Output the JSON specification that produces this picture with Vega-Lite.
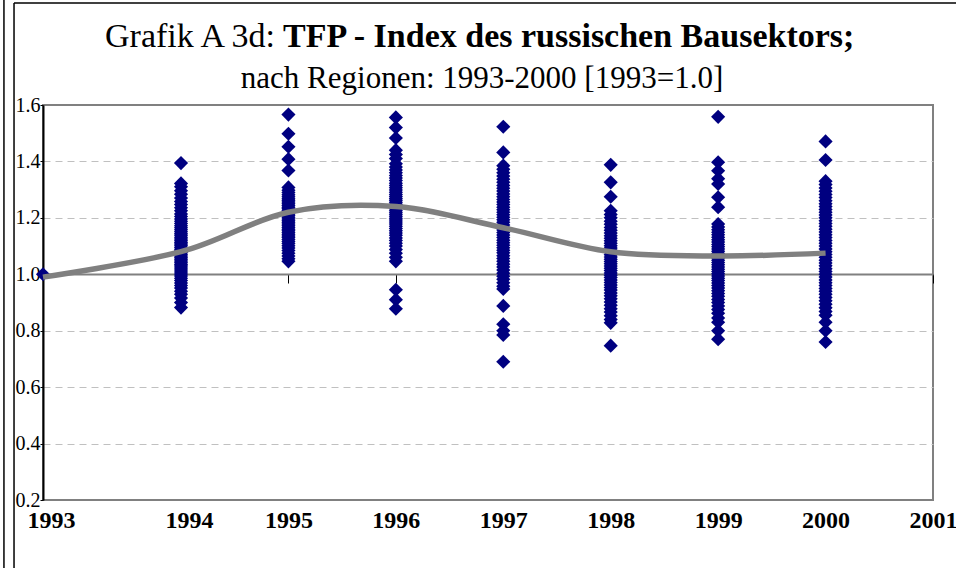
{
  "$schema": "https://vega.github.io/schema/vega-lite/v6.json",
  "width": 890,
  "height": 395,
  "autosize": "none",
  "padding": {"left": 43, "top": 105, "right": 23, "bottom": 68},
  "background": "white",
  "config": {
    "view": {"stroke": "#808080", "strokeWidth": 2},
    "axis": {"labelFont": "Liberation Serif", "labelColor": "black", "zindex": 0},
    "text": {"font": "Liberation Serif", "color": "black"}
  },
  "datasets": {
    "one": [{}],
    "points": [
      {"year":1993,"tfp":1.0},
      {"year":1994,"tfp":1.394},{"year":1994,"tfp":1.322},{"year":1994,"tfp":1.310},{"year":1994,"tfp":1.296},{"year":1994,"tfp":1.284},{"year":1994,"tfp":1.270},{"year":1994,"tfp":1.258},{"year":1994,"tfp":1.247},{"year":1994,"tfp":1.236},{"year":1994,"tfp":1.225},{"year":1994,"tfp":1.214},{"year":1994,"tfp":1.205},{"year":1994,"tfp":1.196},{"year":1994,"tfp":1.188},{"year":1994,"tfp":1.180},{"year":1994,"tfp":1.172},{"year":1994,"tfp":1.165},{"year":1994,"tfp":1.158},{"year":1994,"tfp":1.151},{"year":1994,"tfp":1.144},{"year":1994,"tfp":1.138},{"year":1994,"tfp":1.131},{"year":1994,"tfp":1.125},{"year":1994,"tfp":1.119},{"year":1994,"tfp":1.113},{"year":1994,"tfp":1.107},{"year":1994,"tfp":1.101},{"year":1994,"tfp":1.095},{"year":1994,"tfp":1.089},{"year":1994,"tfp":1.083},{"year":1994,"tfp":1.077},{"year":1994,"tfp":1.071},{"year":1994,"tfp":1.065},{"year":1994,"tfp":1.059},{"year":1994,"tfp":1.053},{"year":1994,"tfp":1.047},{"year":1994,"tfp":1.041},{"year":1994,"tfp":1.035},{"year":1994,"tfp":1.029},{"year":1994,"tfp":1.022},{"year":1994,"tfp":1.015},{"year":1994,"tfp":1.008},{"year":1994,"tfp":1.001},{"year":1994,"tfp":0.994},{"year":1994,"tfp":0.986},{"year":1994,"tfp":0.978},{"year":1994,"tfp":0.969},{"year":1994,"tfp":0.960},{"year":1994,"tfp":0.951},{"year":1994,"tfp":0.940},{"year":1994,"tfp":0.929},{"year":1994,"tfp":0.916},{"year":1994,"tfp":0.900},{"year":1994,"tfp":0.882},
      {"year":1995,"tfp":1.566},{"year":1995,"tfp":1.498},{"year":1995,"tfp":1.452},{"year":1995,"tfp":1.408},{"year":1995,"tfp":1.368},{"year":1995,"tfp":1.308},{"year":1995,"tfp":1.298},{"year":1995,"tfp":1.290},{"year":1995,"tfp":1.282},{"year":1995,"tfp":1.275},{"year":1995,"tfp":1.268},{"year":1995,"tfp":1.262},{"year":1995,"tfp":1.256},{"year":1995,"tfp":1.250},{"year":1995,"tfp":1.244},{"year":1995,"tfp":1.238},{"year":1995,"tfp":1.232},{"year":1995,"tfp":1.226},{"year":1995,"tfp":1.220},{"year":1995,"tfp":1.214},{"year":1995,"tfp":1.208},{"year":1995,"tfp":1.202},{"year":1995,"tfp":1.196},{"year":1995,"tfp":1.190},{"year":1995,"tfp":1.184},{"year":1995,"tfp":1.178},{"year":1995,"tfp":1.172},{"year":1995,"tfp":1.166},{"year":1995,"tfp":1.160},{"year":1995,"tfp":1.154},{"year":1995,"tfp":1.148},{"year":1995,"tfp":1.142},{"year":1995,"tfp":1.136},{"year":1995,"tfp":1.130},{"year":1995,"tfp":1.123},{"year":1995,"tfp":1.116},{"year":1995,"tfp":1.109},{"year":1995,"tfp":1.101},{"year":1995,"tfp":1.093},{"year":1995,"tfp":1.084},{"year":1995,"tfp":1.075},{"year":1995,"tfp":1.065},{"year":1995,"tfp":1.055},{"year":1995,"tfp":1.046},
      {"year":1996,"tfp":1.556},{"year":1996,"tfp":1.520},{"year":1996,"tfp":1.483},{"year":1996,"tfp":1.440},{"year":1996,"tfp":1.425},{"year":1996,"tfp":1.410},{"year":1996,"tfp":1.392},{"year":1996,"tfp":1.380},{"year":1996,"tfp":1.370},{"year":1996,"tfp":1.360},{"year":1996,"tfp":1.350},{"year":1996,"tfp":1.341},{"year":1996,"tfp":1.332},{"year":1996,"tfp":1.323},{"year":1996,"tfp":1.315},{"year":1996,"tfp":1.307},{"year":1996,"tfp":1.299},{"year":1996,"tfp":1.291},{"year":1996,"tfp":1.283},{"year":1996,"tfp":1.276},{"year":1996,"tfp":1.269},{"year":1996,"tfp":1.262},{"year":1996,"tfp":1.255},{"year":1996,"tfp":1.248},{"year":1996,"tfp":1.241},{"year":1996,"tfp":1.234},{"year":1996,"tfp":1.227},{"year":1996,"tfp":1.220},{"year":1996,"tfp":1.213},{"year":1996,"tfp":1.206},{"year":1996,"tfp":1.199},{"year":1996,"tfp":1.192},{"year":1996,"tfp":1.185},{"year":1996,"tfp":1.178},{"year":1996,"tfp":1.170},{"year":1996,"tfp":1.162},{"year":1996,"tfp":1.154},{"year":1996,"tfp":1.146},{"year":1996,"tfp":1.138},{"year":1996,"tfp":1.129},{"year":1996,"tfp":1.120},{"year":1996,"tfp":1.110},{"year":1996,"tfp":1.100},{"year":1996,"tfp":1.088},{"year":1996,"tfp":1.075},{"year":1996,"tfp":1.060},{"year":1996,"tfp":1.046},{"year":1996,"tfp":0.945},{"year":1996,"tfp":0.910},{"year":1996,"tfp":0.878},
      {"year":1997,"tfp":1.523},{"year":1997,"tfp":1.432},{"year":1997,"tfp":1.385},{"year":1997,"tfp":1.372},{"year":1997,"tfp":1.360},{"year":1997,"tfp":1.348},{"year":1997,"tfp":1.337},{"year":1997,"tfp":1.326},{"year":1997,"tfp":1.315},{"year":1997,"tfp":1.305},{"year":1997,"tfp":1.295},{"year":1997,"tfp":1.285},{"year":1997,"tfp":1.275},{"year":1997,"tfp":1.265},{"year":1997,"tfp":1.256},{"year":1997,"tfp":1.247},{"year":1997,"tfp":1.238},{"year":1997,"tfp":1.229},{"year":1997,"tfp":1.220},{"year":1997,"tfp":1.211},{"year":1997,"tfp":1.202},{"year":1997,"tfp":1.193},{"year":1997,"tfp":1.184},{"year":1997,"tfp":1.175},{"year":1997,"tfp":1.166},{"year":1997,"tfp":1.157},{"year":1997,"tfp":1.148},{"year":1997,"tfp":1.139},{"year":1997,"tfp":1.130},{"year":1997,"tfp":1.121},{"year":1997,"tfp":1.112},{"year":1997,"tfp":1.103},{"year":1997,"tfp":1.094},{"year":1997,"tfp":1.085},{"year":1997,"tfp":1.076},{"year":1997,"tfp":1.066},{"year":1997,"tfp":1.056},{"year":1997,"tfp":1.046},{"year":1997,"tfp":1.036},{"year":1997,"tfp":1.026},{"year":1997,"tfp":1.015},{"year":1997,"tfp":1.004},{"year":1997,"tfp":0.993},{"year":1997,"tfp":0.982},{"year":1997,"tfp":0.970},{"year":1997,"tfp":0.958},{"year":1997,"tfp":0.948},{"year":1997,"tfp":0.888},{"year":1997,"tfp":0.823},{"year":1997,"tfp":0.800},{"year":1997,"tfp":0.785},{"year":1997,"tfp":0.690},
      {"year":1998,"tfp":1.388},{"year":1998,"tfp":1.326},{"year":1998,"tfp":1.275},{"year":1998,"tfp":1.225},{"year":1998,"tfp":1.212},{"year":1998,"tfp":1.200},{"year":1998,"tfp":1.188},{"year":1998,"tfp":1.177},{"year":1998,"tfp":1.166},{"year":1998,"tfp":1.156},{"year":1998,"tfp":1.146},{"year":1998,"tfp":1.137},{"year":1998,"tfp":1.128},{"year":1998,"tfp":1.119},{"year":1998,"tfp":1.110},{"year":1998,"tfp":1.101},{"year":1998,"tfp":1.093},{"year":1998,"tfp":1.085},{"year":1998,"tfp":1.077},{"year":1998,"tfp":1.069},{"year":1998,"tfp":1.061},{"year":1998,"tfp":1.053},{"year":1998,"tfp":1.045},{"year":1998,"tfp":1.037},{"year":1998,"tfp":1.029},{"year":1998,"tfp":1.021},{"year":1998,"tfp":1.013},{"year":1998,"tfp":1.005},{"year":1998,"tfp":0.997},{"year":1998,"tfp":0.989},{"year":1998,"tfp":0.980},{"year":1998,"tfp":0.971},{"year":1998,"tfp":0.962},{"year":1998,"tfp":0.953},{"year":1998,"tfp":0.944},{"year":1998,"tfp":0.934},{"year":1998,"tfp":0.924},{"year":1998,"tfp":0.913},{"year":1998,"tfp":0.902},{"year":1998,"tfp":0.890},{"year":1998,"tfp":0.878},{"year":1998,"tfp":0.866},{"year":1998,"tfp":0.853},{"year":1998,"tfp":0.840},{"year":1998,"tfp":0.828},{"year":1998,"tfp":0.747},
      {"year":1999,"tfp":1.558},{"year":1999,"tfp":1.397},{"year":1999,"tfp":1.367},{"year":1999,"tfp":1.339},{"year":1999,"tfp":1.320},{"year":1999,"tfp":1.273},{"year":1999,"tfp":1.238},{"year":1999,"tfp":1.178},{"year":1999,"tfp":1.168},{"year":1999,"tfp":1.158},{"year":1999,"tfp":1.149},{"year":1999,"tfp":1.140},{"year":1999,"tfp":1.131},{"year":1999,"tfp":1.122},{"year":1999,"tfp":1.114},{"year":1999,"tfp":1.106},{"year":1999,"tfp":1.098},{"year":1999,"tfp":1.090},{"year":1999,"tfp":1.082},{"year":1999,"tfp":1.074},{"year":1999,"tfp":1.066},{"year":1999,"tfp":1.058},{"year":1999,"tfp":1.050},{"year":1999,"tfp":1.042},{"year":1999,"tfp":1.034},{"year":1999,"tfp":1.026},{"year":1999,"tfp":1.018},{"year":1999,"tfp":1.010},{"year":1999,"tfp":1.002},{"year":1999,"tfp":0.994},{"year":1999,"tfp":0.986},{"year":1999,"tfp":0.978},{"year":1999,"tfp":0.969},{"year":1999,"tfp":0.960},{"year":1999,"tfp":0.951},{"year":1999,"tfp":0.942},{"year":1999,"tfp":0.932},{"year":1999,"tfp":0.922},{"year":1999,"tfp":0.911},{"year":1999,"tfp":0.900},{"year":1999,"tfp":0.888},{"year":1999,"tfp":0.875},{"year":1999,"tfp":0.862},{"year":1999,"tfp":0.845},{"year":1999,"tfp":0.830},{"year":1999,"tfp":0.800},{"year":1999,"tfp":0.770},
      {"year":2000,"tfp":1.471},{"year":2000,"tfp":1.405},{"year":2000,"tfp":1.330},{"year":2000,"tfp":1.318},{"year":2000,"tfp":1.306},{"year":2000,"tfp":1.294},{"year":2000,"tfp":1.283},{"year":2000,"tfp":1.272},{"year":2000,"tfp":1.261},{"year":2000,"tfp":1.250},{"year":2000,"tfp":1.240},{"year":2000,"tfp":1.230},{"year":2000,"tfp":1.220},{"year":2000,"tfp":1.210},{"year":2000,"tfp":1.200},{"year":2000,"tfp":1.190},{"year":2000,"tfp":1.180},{"year":2000,"tfp":1.170},{"year":2000,"tfp":1.160},{"year":2000,"tfp":1.150},{"year":2000,"tfp":1.140},{"year":2000,"tfp":1.130},{"year":2000,"tfp":1.120},{"year":2000,"tfp":1.110},{"year":2000,"tfp":1.100},{"year":2000,"tfp":1.090},{"year":2000,"tfp":1.080},{"year":2000,"tfp":1.070},{"year":2000,"tfp":1.060},{"year":2000,"tfp":1.050},{"year":2000,"tfp":1.040},{"year":2000,"tfp":1.030},{"year":2000,"tfp":1.020},{"year":2000,"tfp":1.010},{"year":2000,"tfp":1.000},{"year":2000,"tfp":0.990},{"year":2000,"tfp":0.980},{"year":2000,"tfp":0.970},{"year":2000,"tfp":0.960},{"year":2000,"tfp":0.950},{"year":2000,"tfp":0.940},{"year":2000,"tfp":0.929},{"year":2000,"tfp":0.918},{"year":2000,"tfp":0.906},{"year":2000,"tfp":0.894},{"year":2000,"tfp":0.881},{"year":2000,"tfp":0.868},{"year":2000,"tfp":0.855},{"year":2000,"tfp":0.830},{"year":2000,"tfp":0.800},{"year":2000,"tfp":0.760}
    ],
    "trend": [
      {"year":1993,"trend":0.99},{"year":1994,"trend":1.08},{"year":1995,"trend":1.22},{"year":1996,"trend":1.24},{"year":1997,"trend":1.165},{"year":1998,"trend":1.08},{"year":1999,"trend":1.065},{"year":2000,"trend":1.075}
    ]
  },
  "resolve": {"axis": {"x": "independent", "y": "independent"}},
  "layer": [
    {
      "data": {"name": "one"},
      "mark": {"type": "rule", "color": "black", "strokeWidth": 1.5},
      "encoding": {
        "x": {"datum": 1992.717, "type": "quantitative", "scale": {"domain": [1993, 1994, 2001], "range": [0, 138, 890], "nice": false, "zero": false}, "axis": null},
        "y": {"datum": 2.0, "type": "quantitative", "scale": {"domain": [0.2, 1.6], "nice": false, "zero": false}, "axis": null},
        "y2": {"datum": -0.1}
      }
    },
    {
      "data": {"name": "one"},
      "mark": {"type": "rule", "color": "black", "strokeWidth": 1.5},
      "encoding": {
        "x": {"datum": 1992.790, "type": "quantitative", "axis": null},
        "y": {"datum": 1.9615, "type": "quantitative", "axis": null},
        "y2": {"datum": -0.1}
      }
    },
    {
      "data": {"name": "one"},
      "mark": {"type": "rule", "color": "black", "strokeWidth": 1.5},
      "encoding": {
        "x": {"datum": 1992.790, "type": "quantitative", "axis": null},
        "x2": {"datum": 2001.6},
        "y": {"datum": 1.9615, "type": "quantitative", "axis": null}
      }
    },
    {
      "data": {"name": "one"},
      "mark": {"type": "text", "text": "Grafik A 3d:", "fontSize": 34, "align": "right", "baseline": "alphabetic"},
      "encoding": {
        "x": {"datum": 1994.875, "type": "quantitative", "axis": null},
        "y": {"datum": 1.8056, "type": "quantitative", "axis": null}
      }
    },
    {
      "data": {"name": "one"},
      "mark": {"type": "text", "text": "TFP - Index des russischen Bausektors;", "fontSize": 34, "fontWeight": "bold", "align": "left", "baseline": "alphabetic"},
      "encoding": {
        "x": {"datum": 1994.949, "type": "quantitative", "axis": null},
        "y": {"datum": 1.8056, "type": "quantitative", "axis": null}
      }
    },
    {
      "data": {"name": "one"},
      "mark": {"type": "text", "text": "nach Regionen: 1993-2000 [1993=1.0]", "fontSize": 31, "align": "center", "baseline": "alphabetic"},
      "encoding": {
        "x": {"datum": 1996.802, "type": "quantitative", "axis": null},
        "y": {"datum": 1.6603, "type": "quantitative", "axis": null}
      }
    },
    {
      "data": {"name": "points"},
      "mark": {"type": "point", "shape": "diamond", "filled": true, "color": "#000080", "size": 200, "opacity": 1},
      "encoding": {
        "x": {
          "field": "year", "type": "quantitative",
          "axis": {
            "orient": "bottom", "values": [1993,1994,1995,1996,1997,1998,1999,2000,2001], "format": "d",
            "domain": false, "ticks": false, "grid": false, "title": null,
            "labelFontSize": 24, "labelFontWeight": "bold", "labelPadding": 8, "labelOverlap": false, "labelFlush": false,
            "labelOffset": {"condition": {"test": "datum.value < 1994.5", "value": 8}, "value": 0}
          }
        },
        "y": {
          "field": "tfp", "type": "quantitative",
          "axis": {
            "orient": "left", "values": [0.2,0.4,0.6,0.8,1.0,1.2,1.4,1.6], "format": ".1f", "title": null,
            "labelFontSize": 20, "labelPadding": 0,
            "domainColor": "black", "domainWidth": 2, "tickColor": "black", "tickSize": 3, "tickWidth": 1,
            "grid": true, "gridColor": "#c0c0c0", "gridDash": [7, 5], "gridWidth": 1,
            "gridOpacity": {"condition": {"test": "datum.value < 0.3 || datum.value > 1.5 || (datum.value > 0.95 && datum.value < 1.05)", "value": 0}, "value": 1}
          }
        }
      }
    },
    {
      "data": {"name": "trend"},
      "mark": {"type": "line", "color": "#808080", "strokeWidth": 5.5, "interpolate": "cardinal", "tension": 0},
      "encoding": {
        "x": {
          "field": "year", "type": "quantitative",
          "axis": {
            "orient": "bottom", "offset": -226, "values": [1993,1994,1995,1996,1997,1998,1999,2000,2001],
            "labels": false, "grid": false, "title": null,
            "domain": true, "domainColor": "#808080", "domainWidth": 2,
            "ticks": true, "tickColor": "black", "tickSize": 9, "tickWidth": 1
          }
        },
        "y": {"field": "trend", "type": "quantitative", "axis": null}
      }
    }
  ]
}
